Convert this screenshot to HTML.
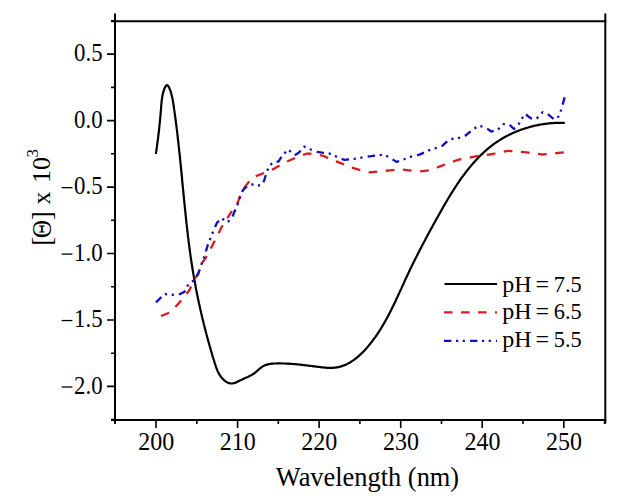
<!DOCTYPE html>
<html><head><meta charset="utf-8"><style>
html,body{margin:0;padding:0;background:#fff;width:620px;height:501px;overflow:hidden}
svg{display:block}
text{font-family:"Liberation Serif",serif;fill:#000}
</style></head><body>
<svg width="620" height="501" viewBox="0 0 620 501">
<rect width="620" height="501" fill="#fff"/>
<g stroke="#000" stroke-width="2" fill="none" stroke-linecap="butt">
<path d="M115.0,13.4 V423.5"/>
<path d="M605.3,13.4 V423.5"/>
<path d="M111,21.3 H606.3"/>
<path d="M111,420.0 H606.3"/>
<path d="M115.2,420.0 V424.0 M156.0,420.0 V428.0 M196.8,420.0 V424.0 M237.6,420.0 V428.0 M278.3,420.0 V424.0 M319.1,420.0 V428.0 M359.9,420.0 V424.0 M400.7,420.0 V428.0 M441.5,420.0 V424.0 M482.2,420.0 V428.0 M523.0,420.0 V424.0 M563.8,420.0 V428.0 M604.6,420.0 V424.0 M115.0,419.6 H111.0 M115.0,386.4 H107.0 M115.0,353.2 H111.0 M115.0,320.0 H107.0 M115.0,286.7 H111.0 M115.0,253.5 H107.0 M115.0,220.3 H111.0 M115.0,187.1 H107.0 M115.0,153.8 H111.0 M115.0,120.6 H107.0 M115.0,87.4 H111.0 M115.0,54.1 H107.0 M115.0,20.9 H111.0" stroke-width="1.6"/>
</g>
<text transform="translate(156.20,449.80) scale(1.000,1.030)" font-size="24.00" text-anchor="middle">200</text><text transform="translate(237.76,449.80) scale(1.000,1.030)" font-size="24.00" text-anchor="middle">210</text><text transform="translate(319.32,449.80) scale(1.000,1.030)" font-size="24.00" text-anchor="middle">220</text><text transform="translate(400.88,449.80) scale(1.000,1.030)" font-size="24.00" text-anchor="middle">230</text><text transform="translate(482.44,449.80) scale(1.000,1.030)" font-size="24.00" text-anchor="middle">240</text><text transform="translate(564.00,449.80) scale(1.000,1.030)" font-size="24.00" text-anchor="middle">250</text><text transform="translate(102.60,61.35) scale(0.950,1.060)" font-size="24.00" text-anchor="end">0.5</text><text transform="translate(102.60,127.80) scale(0.950,1.060)" font-size="24.00" text-anchor="end">0.0</text><text transform="translate(102.60,194.25) scale(0.950,1.060)" font-size="24.00" text-anchor="end">0.5</text><path d="M61.6,187.65 H72.4" stroke="#000" stroke-width="1.3" fill="none"/><text transform="translate(102.60,260.70) scale(0.950,1.060)" font-size="24.00" text-anchor="end">1.0</text><path d="M61.6,254.10 H72.4" stroke="#000" stroke-width="1.3" fill="none"/><text transform="translate(102.60,327.15) scale(0.950,1.060)" font-size="24.00" text-anchor="end">1.5</text><path d="M61.6,320.55 H72.4" stroke="#000" stroke-width="1.3" fill="none"/><text transform="translate(102.60,393.60) scale(0.950,1.060)" font-size="24.00" text-anchor="end">2.0</text><path d="M61.6,387.00 H72.4" stroke="#000" stroke-width="1.3" fill="none"/>
<text x="367.5" y="486" font-size="26.4" text-anchor="middle">Wavelength (nm)</text>
<g transform="translate(49.4,0) rotate(-90)" font-size="26">
<text x="-245.8" y="1.4" font-size="27">[</text>
<text transform="translate(-238.2,1.2) scale(1,1.1)" font-size="25.5">&#920;</text>
<text x="-220.2" y="1.4" font-size="27">]</text>
<text x="-204.5" y="0.3">x</text>
<text x="-183" y="0.3">10</text>
<text x="-157.5" y="-11.5" font-size="17">3</text>
</g>
<path d="M155.9,153.8 L156.0,152.8 L156.2,151.7 L156.3,150.7 L156.5,149.6 L156.6,148.6 L156.8,147.6 L156.9,146.6 L157.0,145.6 L157.2,144.6 L157.3,143.6 L157.4,142.6 L157.6,141.6 L157.7,140.7 L157.8,139.7 L158.0,138.7 L158.1,137.8 L158.2,136.8 L158.3,135.8 L158.4,134.9 L158.5,133.9 L158.7,133.0 L158.8,132.0 L158.9,131.1 L159.0,130.1 L159.1,129.1 L159.2,128.2 L159.3,127.2 L159.4,126.3 L159.5,125.3 L159.6,124.3 L159.7,123.4 L159.8,122.4 L159.9,121.4 L160.0,120.4 L160.1,119.5 L160.2,118.5 L160.3,117.5 L160.4,116.5 L160.5,115.5 L160.5,114.4 L160.6,113.4 L160.7,112.4 L160.8,111.4 L160.9,110.3 L161.0,109.3 L161.1,108.2 L161.1,107.1 L161.2,106.0 L161.3,105.0 L161.4,103.9 L161.5,102.8 L161.6,101.7 L161.7,100.6 L161.9,99.5 L162.0,98.4 L162.2,97.4 L162.3,96.3 L162.5,95.2 L162.8,94.2 L163.0,93.1 L163.3,92.1 L163.6,91.1 L163.9,90.1 L164.2,89.1 L164.6,88.2 L165.0,87.4 L165.4,86.7 L165.8,86.0 L166.2,85.6 L166.6,85.3 L167.0,85.2 L167.4,85.3 L167.8,85.6 L168.2,86.1 L168.6,86.7 L169.0,87.4 L169.4,88.2 L169.7,89.0 L170.1,89.9 L170.4,90.8 L170.7,91.7 L171.0,92.6 L171.2,93.5 L171.5,94.4 L171.7,95.4 L171.9,96.3 L172.2,97.3 L172.4,98.3 L172.6,99.3 L172.8,100.3 L172.9,101.3 L173.1,102.3 L173.3,103.3 L173.4,104.3 L173.6,105.3 L173.7,106.3 L173.9,107.3 L174.0,108.4 L174.2,109.4 L174.3,110.4 L174.5,111.4 L174.6,112.4 L174.8,113.5 L174.9,114.5 L175.0,115.5 L175.2,116.5 L175.3,117.5 L175.4,118.5 L175.6,119.6 L175.7,120.6 L175.8,121.6 L176.0,122.6 L176.1,123.6 L176.2,124.6 L176.4,125.6 L176.5,126.7 L176.6,127.7 L176.7,128.7 L176.9,129.7 L177.0,130.7 L177.1,131.7 L177.2,132.7 L177.3,133.7 L177.5,134.8 L177.6,135.8 L177.7,136.8 L177.8,137.8 L177.9,138.8 L178.0,139.8 L178.1,140.8 L178.3,141.8 L178.4,142.8 L178.5,143.8 L178.6,144.8 L178.7,145.8 L178.8,146.9 L178.9,147.9 L179.0,148.9 L179.1,149.9 L179.2,150.9 L179.3,151.9 L179.5,152.9 L179.6,153.9 L179.7,154.9 L179.8,155.9 L179.9,156.9 L180.0,157.9 L180.1,158.9 L180.2,159.9 L180.3,160.9 L180.4,161.9 L180.5,162.9 L180.6,163.9 L180.7,164.9 L180.8,165.9 L180.9,166.9 L181.0,167.9 L181.1,168.9 L181.2,169.9 L181.3,170.9 L181.4,171.9 L181.5,172.9 L181.6,173.9 L181.7,174.9 L181.8,175.9 L181.9,176.9 L182.0,177.9 L182.1,178.9 L182.1,179.9 L182.2,180.9 L182.3,181.9 L182.4,182.9 L182.5,183.9 L182.6,184.9 L182.7,185.9 L182.8,186.9 L182.9,187.9 L183.0,188.9 L183.1,189.9 L183.2,190.9 L183.3,191.9 L183.4,192.9 L183.5,193.9 L183.6,194.9 L183.7,195.8 L183.8,196.8 L183.9,197.8 L184.0,198.8 L184.1,199.8 L184.2,200.8 L184.3,201.8 L184.4,202.8 L184.5,203.8 L184.6,204.8 L184.7,205.8 L184.8,206.8 L184.9,207.8 L185.0,208.8 L185.1,209.7 L185.2,210.7 L185.3,211.7 L185.4,212.7 L185.5,213.7 L185.6,214.7 L185.7,215.7 L185.8,216.7 L185.9,217.7 L186.0,218.7 L186.1,219.7 L186.2,220.6 L186.3,221.6 L186.4,222.6 L186.5,223.6 L186.7,224.6 L186.8,225.6 L186.9,226.6 L187.0,227.6 L187.1,228.6 L187.2,229.5 L187.3,230.5 L187.4,231.5 L187.6,232.5 L187.7,233.5 L187.8,234.5 L187.9,235.5 L188.0,236.5 L188.1,237.4 L188.3,238.4 L188.4,239.4 L188.5,240.4 L188.6,241.4 L188.8,242.4 L188.9,243.4 L189.0,244.4 L189.1,245.3 L189.3,246.3 L189.4,247.3 L189.5,248.3 L189.7,249.3 L189.8,250.3 L189.9,251.3 L190.1,252.2 L190.2,253.2 L190.3,254.2 L190.5,255.2 L190.6,256.2 L190.8,257.2 L190.9,258.2 L191.0,259.1 L191.2,260.1 L191.3,261.1 L191.5,262.1 L191.6,263.1 L191.8,264.1 L191.9,265.1 L192.1,266.0 L192.2,267.0 L192.4,268.0 L192.5,269.0 L192.7,270.0 L192.9,271.0 L193.0,272.0 L193.2,272.9 L193.4,273.9 L193.5,274.9 L193.7,275.9 L193.9,276.9 L194.0,277.9 L194.2,278.9 L194.4,279.8 L194.6,280.8 L194.7,281.8 L194.9,282.8 L195.1,283.8 L195.3,284.8 L195.5,285.7 L195.6,286.7 L195.8,287.7 L196.0,288.7 L196.2,289.7 L196.4,290.7 L196.6,291.7 L196.8,292.6 L197.0,293.6 L197.2,294.6 L197.4,295.6 L197.6,296.6 L197.8,297.6 L198.0,298.5 L198.2,299.5 L198.4,300.5 L198.6,301.5 L198.8,302.5 L199.0,303.5 L199.3,304.4 L199.5,305.4 L199.7,306.4 L199.9,307.4 L200.1,308.4 L200.3,309.3 L200.6,310.3 L200.8,311.3 L201.0,312.3 L201.2,313.3 L201.5,314.3 L201.7,315.2 L201.9,316.2 L202.2,317.2 L202.4,318.2 L202.6,319.1 L202.9,320.1 L203.1,321.1 L203.4,322.1 L203.6,323.1 L203.8,324.0 L204.1,325.0 L204.3,326.0 L204.6,327.0 L204.8,327.9 L205.1,328.9 L205.3,329.9 L205.6,330.9 L205.8,331.8 L206.1,332.8 L206.3,333.8 L206.6,334.8 L206.9,335.7 L207.1,336.7 L207.4,337.7 L207.6,338.7 L207.9,339.6 L208.2,340.6 L208.4,341.6 L208.7,342.6 L209.0,343.5 L209.3,344.5 L209.5,345.5 L209.8,346.4 L210.1,347.4 L210.4,348.4 L210.6,349.3 L210.9,350.3 L211.2,351.3 L211.5,352.2 L211.8,353.2 L212.1,354.2 L212.3,355.1 L212.6,356.1 L212.9,357.1 L213.2,358.0 L213.5,359.0 L213.8,359.9 L214.1,360.9 L214.4,361.9 L214.7,362.8 L215.0,363.8 L215.3,364.7 L215.6,365.7 L215.9,366.6 L216.3,367.6 L216.6,368.5 L217.0,369.4 L217.3,370.4 L217.7,371.3 L218.2,372.2 L218.6,373.0 L219.1,373.9 L219.6,374.7 L220.1,375.6 L220.7,376.4 L221.2,377.2 L221.9,377.9 L222.5,378.7 L223.3,379.4 L224.0,380.1 L224.8,380.8 L225.6,381.4 L226.4,381.9 L227.3,382.4 L228.2,382.8 L229.1,383.1 L230.0,383.4 L230.9,383.5 L231.9,383.5 L232.8,383.4 L233.7,383.2 L234.7,382.9 L235.6,382.6 L236.5,382.2 L237.5,381.8 L238.4,381.3 L239.4,380.8 L240.3,380.3 L241.3,379.9 L242.2,379.4 L243.2,379.0 L244.1,378.5 L245.0,378.1 L246.0,377.7 L246.9,377.3 L247.8,376.9 L248.7,376.4 L249.6,376.0 L250.5,375.6 L251.4,375.1 L252.2,374.6 L253.1,374.0 L253.9,373.5 L254.7,372.9 L255.5,372.3 L256.3,371.6 L257.0,371.0 L257.8,370.3 L258.5,369.7 L259.3,369.0 L260.1,368.4 L260.8,367.7 L261.6,367.2 L262.4,366.6 L263.3,366.1 L264.1,365.7 L265.0,365.3 L265.9,364.9 L266.9,364.6 L267.8,364.4 L268.8,364.1 L269.8,364.0 L270.8,363.8 L271.8,363.7 L272.9,363.6 L273.9,363.5 L274.9,363.5 L275.9,363.5 L277.0,363.4 L278.0,363.4 L279.0,363.4 L280.0,363.4 L281.0,363.4 L282.0,363.5 L283.0,363.5 L284.0,363.5 L285.0,363.5 L286.0,363.6 L287.0,363.6 L288.0,363.7 L289.0,363.7 L290.0,363.8 L290.9,363.9 L291.9,363.9 L292.9,364.0 L293.9,364.1 L294.8,364.2 L295.8,364.2 L296.8,364.3 L297.8,364.4 L298.7,364.5 L299.7,364.6 L300.7,364.7 L301.7,364.8 L302.6,364.9 L303.6,365.1 L304.6,365.2 L305.6,365.3 L306.6,365.4 L307.5,365.5 L308.5,365.6 L309.5,365.8 L310.5,365.9 L311.5,366.0 L312.5,366.1 L313.5,366.3 L314.5,366.4 L315.6,366.5 L316.6,366.7 L317.6,366.8 L318.7,366.9 L319.7,367.0 L320.7,367.2 L321.8,367.3 L322.8,367.4 L323.9,367.5 L325.0,367.6 L326.0,367.7 L327.1,367.8 L328.1,367.8 L329.2,367.8 L330.2,367.9 L331.2,367.9 L332.3,367.8 L333.3,367.8 L334.3,367.7 L335.3,367.6 L336.3,367.4 L337.2,367.3 L338.2,367.1 L339.2,366.9 L340.1,366.6 L341.1,366.4 L342.0,366.1 L342.9,365.8 L343.8,365.4 L344.7,365.1 L345.6,364.7 L346.5,364.3 L347.4,363.9 L348.2,363.4 L349.1,362.9 L349.9,362.5 L350.8,362.0 L351.6,361.4 L352.4,360.9 L353.2,360.4 L354.0,359.8 L354.8,359.2 L355.6,358.6 L356.4,358.0 L357.2,357.4 L357.9,356.7 L358.7,356.1 L359.4,355.4 L360.2,354.7 L360.9,354.0 L361.6,353.3 L362.4,352.6 L363.1,351.9 L363.8,351.2 L364.5,350.4 L365.2,349.7 L365.8,348.9 L366.5,348.2 L367.2,347.4 L367.8,346.7 L368.5,345.9 L369.1,345.1 L369.8,344.3 L370.4,343.5 L371.0,342.8 L371.7,342.0 L372.3,341.2 L372.9,340.4 L373.5,339.5 L374.1,338.7 L374.7,337.9 L375.3,337.1 L375.8,336.3 L376.4,335.5 L377.0,334.6 L377.5,333.8 L378.1,333.0 L378.6,332.1 L379.2,331.3 L379.7,330.4 L380.3,329.6 L380.8,328.7 L381.3,327.9 L381.9,327.0 L382.4,326.1 L382.9,325.3 L383.4,324.4 L383.9,323.5 L384.4,322.7 L384.9,321.8 L385.4,320.9 L385.9,320.0 L386.4,319.2 L386.9,318.3 L387.3,317.4 L387.8,316.5 L388.3,315.6 L388.8,314.7 L389.2,313.8 L389.7,312.9 L390.1,312.0 L390.6,311.1 L391.1,310.2 L391.5,309.3 L392.0,308.4 L392.4,307.5 L392.8,306.6 L393.3,305.7 L393.7,304.8 L394.2,303.9 L394.6,303.0 L395.0,302.1 L395.5,301.2 L395.9,300.3 L396.3,299.3 L396.7,298.4 L397.2,297.5 L397.6,296.6 L398.0,295.7 L398.4,294.8 L398.9,293.9 L399.3,292.9 L399.7,292.0 L400.1,291.1 L400.5,290.2 L401.0,289.3 L401.4,288.4 L401.8,287.4 L402.2,286.5 L402.6,285.6 L403.0,284.7 L403.5,283.8 L403.9,282.9 L404.3,282.0 L404.7,281.0 L405.1,280.1 L405.5,279.2 L406.0,278.3 L406.4,277.4 L406.8,276.5 L407.2,275.6 L407.7,274.7 L408.1,273.8 L408.5,272.9 L408.9,272.0 L409.4,271.1 L409.8,270.2 L410.2,269.3 L410.6,268.4 L411.1,267.5 L411.5,266.6 L411.9,265.7 L412.4,264.8 L412.8,263.9 L413.2,263.1 L413.7,262.2 L414.1,261.3 L414.6,260.4 L415.0,259.5 L415.4,258.6 L415.9,257.7 L416.3,256.9 L416.8,256.0 L417.2,255.1 L417.7,254.2 L418.1,253.3 L418.6,252.5 L419.0,251.6 L419.5,250.7 L419.9,249.8 L420.4,248.9 L420.8,248.1 L421.3,247.2 L421.7,246.3 L422.2,245.4 L422.7,244.6 L423.1,243.7 L423.6,242.8 L424.0,241.9 L424.5,241.1 L425.0,240.2 L425.4,239.3 L425.9,238.4 L426.4,237.6 L426.8,236.7 L427.3,235.8 L427.8,234.9 L428.3,234.1 L428.7,233.2 L429.2,232.3 L429.7,231.4 L430.2,230.5 L430.6,229.7 L431.1,228.8 L431.6,227.9 L432.1,227.0 L432.5,226.2 L433.0,225.3 L433.5,224.4 L434.0,223.5 L434.5,222.6 L435.0,221.8 L435.4,220.9 L435.9,220.0 L436.4,219.1 L436.9,218.2 L437.4,217.4 L437.9,216.5 L438.4,215.6 L438.9,214.7 L439.4,213.8 L439.9,212.9 L440.4,212.1 L440.9,211.2 L441.4,210.3 L441.9,209.4 L442.4,208.5 L442.9,207.6 L443.4,206.7 L443.9,205.9 L444.4,205.0 L444.9,204.1 L445.4,203.2 L445.9,202.3 L446.4,201.5 L447.0,200.6 L447.5,199.7 L448.0,198.8 L448.5,198.0 L449.1,197.1 L449.6,196.2 L450.1,195.3 L450.7,194.5 L451.2,193.6 L451.7,192.7 L452.3,191.9 L452.8,191.0 L453.4,190.1 L453.9,189.3 L454.5,188.4 L455.0,187.6 L455.6,186.7 L456.1,185.9 L456.7,185.0 L457.2,184.2 L457.8,183.3 L458.4,182.5 L459.0,181.7 L459.5,180.8 L460.1,180.0 L460.7,179.2 L461.3,178.4 L461.9,177.5 L462.5,176.7 L463.1,175.9 L463.7,175.1 L464.3,174.3 L464.9,173.5 L465.5,172.7 L466.1,171.9 L466.7,171.1 L467.3,170.3 L467.9,169.5 L468.6,168.7 L469.2,167.9 L469.8,167.2 L470.5,166.4 L471.1,165.6 L471.8,164.9 L472.4,164.1 L473.1,163.4 L473.7,162.6 L474.4,161.9 L475.1,161.1 L475.7,160.4 L476.4,159.7 L477.1,159.0 L477.8,158.3 L478.5,157.5 L479.1,156.8 L479.8,156.1 L480.5,155.4 L481.3,154.7 L482.0,154.1 L482.7,153.4 L483.4,152.7 L484.1,152.0 L484.9,151.4 L485.6,150.7 L486.3,150.1 L487.1,149.4 L487.8,148.8 L488.6,148.2 L489.3,147.5 L490.1,146.9 L490.9,146.3 L491.7,145.7 L492.4,145.1 L493.2,144.5 L494.0,143.9 L494.8,143.4 L495.6,142.8 L496.4,142.2 L497.3,141.7 L498.1,141.1 L498.9,140.6 L499.7,140.1 L500.6,139.5 L501.4,139.0 L502.3,138.5 L503.1,138.0 L504.0,137.5 L504.8,137.0 L505.7,136.6 L506.6,136.1 L507.5,135.6 L508.4,135.2 L509.3,134.7 L510.2,134.3 L511.1,133.9 L512.0,133.4 L512.9,133.0 L513.8,132.6 L514.7,132.2 L515.7,131.8 L516.6,131.4 L517.5,131.1 L518.5,130.7 L519.4,130.3 L520.4,130.0 L521.3,129.6 L522.3,129.3 L523.2,129.0 L524.2,128.7 L525.2,128.4 L526.1,128.1 L527.1,127.8 L528.1,127.5 L529.0,127.2 L530.0,126.9 L531.0,126.7 L532.0,126.4 L533.0,126.2 L533.9,125.9 L534.9,125.7 L535.9,125.5 L536.9,125.3 L537.9,125.1 L538.9,124.9 L539.9,124.7 L540.9,124.5 L541.9,124.4 L542.9,124.2 L543.9,124.1 L544.9,123.9 L545.9,123.8 L546.9,123.6 L547.9,123.5 L548.9,123.4 L549.9,123.3 L550.9,123.2 L551.9,123.1 L552.9,123.1 L553.9,123.0 L554.9,122.9 L555.9,122.9 L556.9,122.9 L557.9,122.8 L558.8,122.8 L559.8,122.8 L560.8,122.8 L561.8,122.8 L562.8,122.8 L563.8,122.8 L564.8,122.8" stroke="#000" stroke-width="2.2" fill="none"/>
<path d="M161.0,316.0 L169.5,312.6 L177.7,304.6 L189.0,290.7 L195.0,278.4 L198.0,274.7 L201.6,263.5 L205.2,258.6 L212.3,245.6 L215.6,239.2 L221.4,227.5 L224.7,222.3 L230.5,213.2 L234.4,206.7 L237.7,202.8 L241.5,191.5 L249.5,181.0 L256.0,176.1 L266.5,172.1 L273.7,168.9 L283.4,163.2 L290.6,160.0 L299.5,156.0 L307.6,153.5 L317.3,154.4 L323.7,156.0 L333.4,160.8 L337.7,161.9 L350.3,167.2 L360.8,170.3 L369.2,172.4 L379.7,171.4 L390.1,170.3 L398.5,169.3 L409.0,170.3 L419.5,171.4 L428.9,170.3 L440.7,166.1 L457.4,160.0 L476.8,156.1 L492.9,154.0 L507.4,150.8 L515.5,151.3 L526.8,152.4 L541.9,154.5 L563.9,152.4" stroke="#d81c22" stroke-width="2.3" fill="none" stroke-dasharray="8.734 8.531" stroke-linejoin="round"/>
<path d="M156.0,302.4 L159.7,298.7 L165.0,294.2 L171.0,294.6 L174.0,295.0 L178.4,294.9 L184.4,291.9 L187.4,285.9 L193.4,280.7 L197.9,274.0 L200.1,268.7 L202.4,261.2 L204.5,256.0 L208.4,243.0 L211.7,235.3 L213.6,230.0 L216.9,222.9 L221.4,218.1 L227.3,222.3 L231.8,218.4 L234.4,211.9 L237.7,204.1 L239.8,197.9 L243.1,189.8 L247.1,186.3 L253.5,184.2 L260.8,185.8 L264.0,181.0 L266.5,172.9 L268.9,166.5 L273.7,161.6 L278.5,161.6 L282.6,155.2 L288.2,149.5 L294.7,155.2 L298.7,152.7 L304.4,146.6 L310.8,149.5 L317.3,151.9 L322.1,152.7 L329.4,153.5 L331.4,154.6 L344.0,159.8 L354.5,158.8 L367.1,156.7 L383.9,154.6 L390.1,157.7 L396.4,161.9 L402.7,159.8 L411.1,156.7 L419.5,154.6 L428.9,150.4 L434.8,148.4 L441.3,146.8 L446.1,142.3 L454.2,137.9 L460.6,137.9 L465.5,135.5 L471.9,130.3 L478.4,125.8 L484.8,127.1 L491.3,131.5 L497.7,129.8 L503.4,124.2 L509.0,124.2 L513.9,129.0 L518.7,124.2 L524.8,113.6 L530.8,118.4 L536.8,118.4 L542.8,112.1 L548.8,114.8 L554.2,119.6 L558.4,116.6 L561.4,109.4 L564.6,97.4" stroke="#1010c0" stroke-width="2.3" fill="none" stroke-dasharray="7.487 4.654 2.226 4.553 2.226 5.160" stroke-linejoin="round"/>
<g stroke-width="2.2" fill="none">
<path d="M444.5,283.9 H497" stroke="#000" stroke-width="2"/>
<path d="M444,312.4 H497" stroke="#d81c22" stroke-width="2.3" stroke-dasharray="8.6 8.4"/>
<path d="M444,340.8 H497" stroke="#1010c0" stroke-width="2.3" stroke-dasharray="7.4 4.6 2.2 4.5 2.2 5.1"/>
</g>
<text transform="translate(502.30,291.60) scale(1.000,1.000)" font-size="24.00">pH</text><text transform="translate(535.40,291.60) scale(1.000,1.000)" font-size="24.00">=</text><text transform="translate(553.80,291.60) scale(0.930,1.000)" font-size="24.00">7.5</text><text transform="translate(502.30,319.20) scale(1.000,1.000)" font-size="24.00">pH</text><text transform="translate(535.40,319.20) scale(1.000,1.000)" font-size="24.00">=</text><text transform="translate(553.80,319.20) scale(0.930,1.000)" font-size="24.00">6.5</text><text transform="translate(502.30,346.70) scale(1.000,1.000)" font-size="24.00">pH</text><text transform="translate(535.40,346.70) scale(1.000,1.000)" font-size="24.00">=</text><text transform="translate(553.80,346.70) scale(0.930,1.000)" font-size="24.00">5.5</text>
</svg>
</body></html>
